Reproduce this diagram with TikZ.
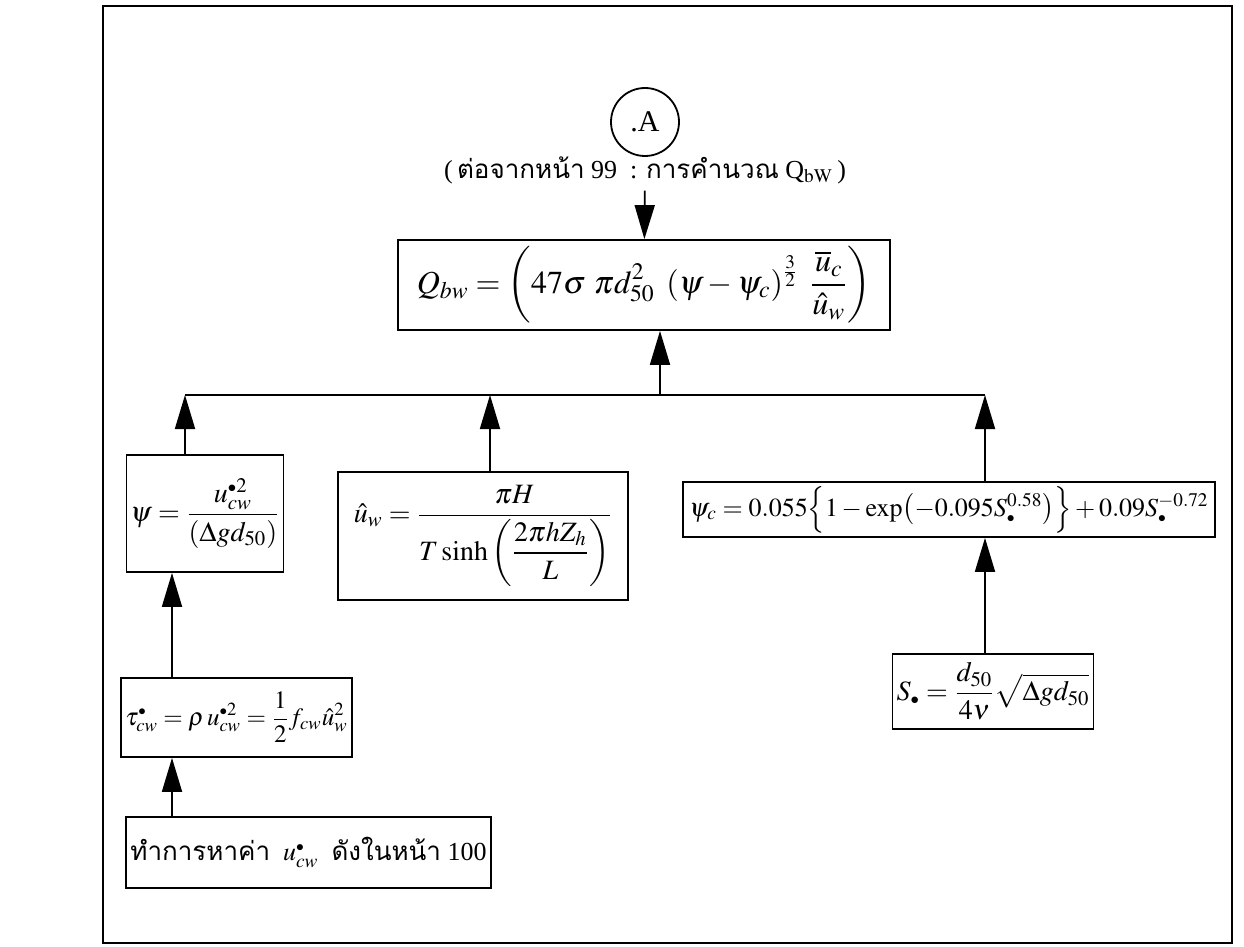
\documentclass[tikz,border=0pt]{standalone}
\usepackage{amsmath}
\usepackage{mathptmx}
\usepackage[no-math]{fontspec}
\setmainfont{Liberation Serif}
\newfontfamily\thaifont[Script=Thai]{Loma}
\usetikzlibrary{arrows.meta,positioning}
\newcommand{\sdot}{{\scriptscriptstyle\bullet}}

\begin{document}
\begin{tikzpicture}[x=0.5pt,y=-0.5pt,
    eqbox/.style={draw,line width=0.9pt,inner sep=2pt,align=center,font=\fontsize{14}{17}\selectfont},
    arr/.style={-{Triangle[length=17pt,width=10pt]},line width=0.9pt},
    >=Latex
  ]
    \useasboundingbox (0,0) rectangle (1244,947);
    \draw[line width=1.2pt] (103,6) rectangle (1232,943);
    % connector A and the main equation
    \node[circle,draw,line width=0.9pt,minimum size=34pt,inner sep=0pt,font=\fontsize{15}{18}\selectfont] (conA) at (645,122) {.A};
    \node[font=\fontsize{13}{15}\selectfont] (cap) at (645,170) {(\,{\thaifont ต่อจากหน้า} 99 \ : {\thaifont การคำนวณ} Q$_{\mathrm{bW}}$\,)};
    \node[eqbox,minimum width=246pt,minimum height=45pt,font=\fontsize{16}{19}\selectfont] (qbw) at (644,285)
      {$\displaystyle Q_{bw} = \left(47\sigma\ \pi d_{50}^{2}\ \left(\psi-\psi_c\right)^{\frac{3}{2}}\ \frac{\overline{u}_c}{\hat{u}_w}\right)$};
    % second row
    \node[eqbox,minimum width=70pt,minimum height=58.5pt] (psi) at (205,513.5)
      {$\displaystyle \psi = \frac{u_{cw}^{\sdot 2}}{\left(\Delta g d_{50}\right)}$};
    \node[eqbox,minimum width=145pt,minimum height=64pt] (uw) at (483,536)
      {$\displaystyle \hat{u}_w = \frac{\pi H}{T\sinh\left(\dfrac{2\pi h Z_h}{L}\right)}$};
    \node[eqbox,minimum width=266pt,minimum height=27.5pt,font=\fontsize{13}{16}\selectfont] (psic) at (949,509.5)
      {$\psi_c = 0.055\Bigl\{1-\exp\bigl(-0.095S_{\sdot}^{0.58}\bigr)\Bigr\}+0.09S_{\sdot}^{-0.72}$};
    % lower rows
    \node[eqbox,minimum width=101.5pt,minimum height=39.5pt,font=\fontsize{12.5}{15}\selectfont] (tau) at (236.5,717.5)
      {$\displaystyle \tau_{cw}^{\sdot} = \rho\, u_{cw}^{\sdot 2} = \frac{1}{2}f_{cw}\hat{u}_w^{2}$};
    \node[eqbox,minimum width=100pt,minimum height=37.5pt] (sdot) at (993,691.5)
      {$\displaystyle S_{\sdot} = \frac{d_{50}}{4\nu}\sqrt{\Delta g d_{50}}$};
    \node[eqbox,minimum width=173.5pt,minimum height=35.5pt,font=\fontsize{13}{16}\selectfont] (find) at (308.5,852.5)
      {{\thaifont ทำการหาค่า}\ \ $u_{cw}^{\sdot}$\ \ {\thaifont ดังในหน้า} 100};
    % bus line and arrows
    \coordinate (busl) at (185,395);
    \coordinate (busm) at (490,395);
    \coordinate (busr) at (985,395);
    \coordinate (bust) at (660,395);
    \coordinate (colx) at (172,0);
    \draw[line width=1.2pt] (busl) -- (busr);
    \draw[arr] (cap) -- (qbw);
    \draw[arr] (bust) -- (qbw.south -| bust);
    \draw[arr] (psi.north -| busl) -- (busl);
    \draw[arr] (uw.north -| busm) -- (busm);
    \draw[arr] (psic.north -| busr) -- (busr);
    \draw[arr] (tau.north -| colx) -- (psi.south -| colx);
    \draw[arr] (find.north -| colx) -- (tau.south -| colx);
    \draw[arr] (sdot.north -| busr) -- (psic.south -| busr);
  \end{tikzpicture}
\end{document}
